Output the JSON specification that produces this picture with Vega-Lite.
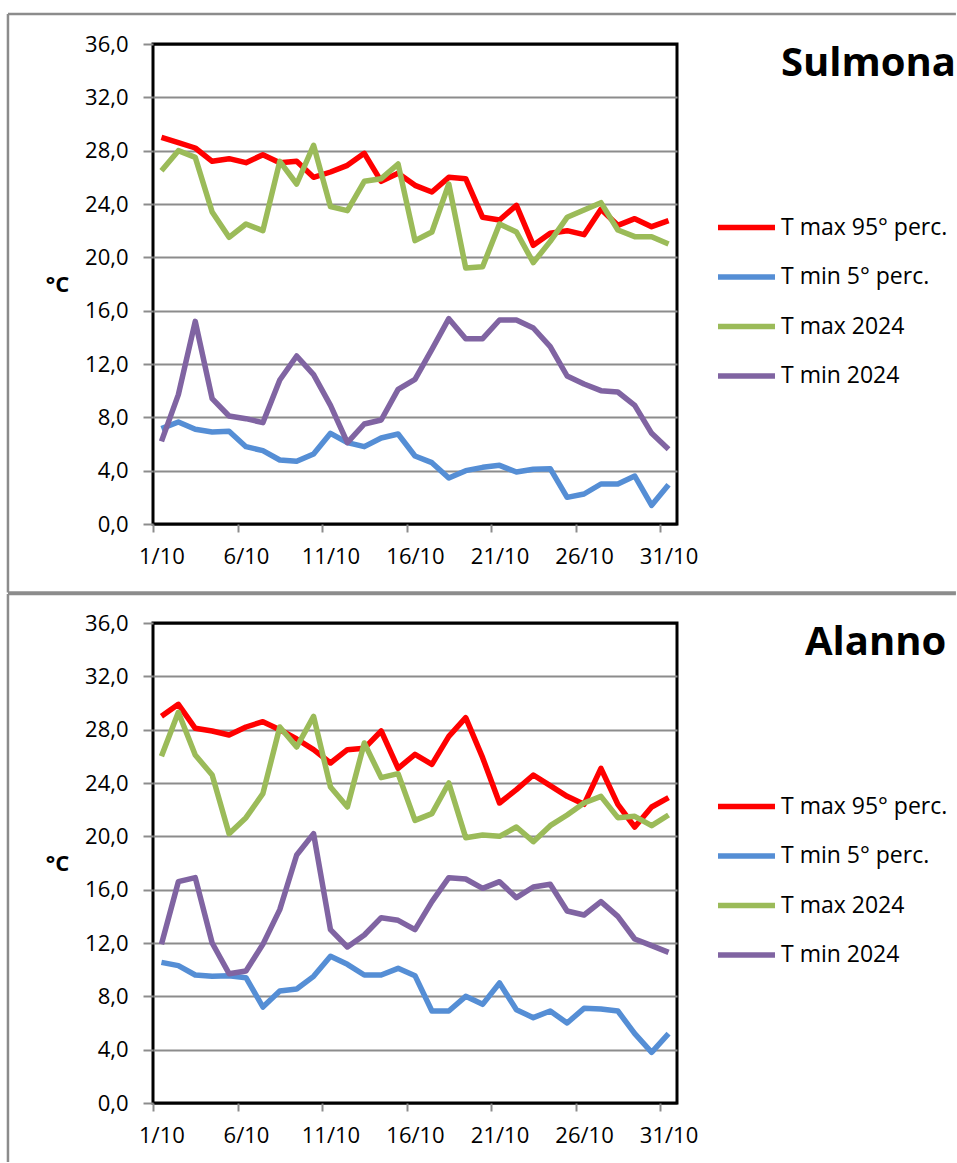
{
"$schema": "https://vega.github.io/schema/vega-lite/v6.json",
"autosize": {"type": "pad"},
"padding": {"left": 5, "top": 11, "right": 0, "bottom": 0},
"background": "white",
"config": {
  "font": "Open Sans",
  "view": {"stroke": "#000", "strokeWidth": 3},
  "axis": {"labelFont": "Open Sans", "labelFontSize": 22, "labelColor": "#000", "tickColor": "#8c8c8c", "tickWidth": 2, "domain": false, "gridColor": "#8c8c8c", "gridWidth": 2}
},
"datasets": {
"frame": [{}],
"t": [
{"s":"Sulmona","k":"T max 95° perc.","d":1,"v":29.0},{"s":"Sulmona","k":"T max 95° perc.","d":2,"v":28.6},{"s":"Sulmona","k":"T max 95° perc.","d":3,"v":28.2},{"s":"Sulmona","k":"T max 95° perc.","d":4,"v":27.2},{"s":"Sulmona","k":"T max 95° perc.","d":5,"v":27.4},{"s":"Sulmona","k":"T max 95° perc.","d":6,"v":27.1},{"s":"Sulmona","k":"T max 95° perc.","d":7,"v":27.7},{"s":"Sulmona","k":"T max 95° perc.","d":8,"v":27.1},{"s":"Sulmona","k":"T max 95° perc.","d":9,"v":27.2},{"s":"Sulmona","k":"T max 95° perc.","d":10,"v":26.0},{"s":"Sulmona","k":"T max 95° perc.","d":11,"v":26.4},{"s":"Sulmona","k":"T max 95° perc.","d":12,"v":26.9},{"s":"Sulmona","k":"T max 95° perc.","d":13,"v":27.8},{"s":"Sulmona","k":"T max 95° perc.","d":14,"v":25.7},{"s":"Sulmona","k":"T max 95° perc.","d":15,"v":26.3},{"s":"Sulmona","k":"T max 95° perc.","d":16,"v":25.4},{"s":"Sulmona","k":"T max 95° perc.","d":17,"v":24.9},{"s":"Sulmona","k":"T max 95° perc.","d":18,"v":26.0},{"s":"Sulmona","k":"T max 95° perc.","d":19,"v":25.9},{"s":"Sulmona","k":"T max 95° perc.","d":20,"v":23.0},{"s":"Sulmona","k":"T max 95° perc.","d":21,"v":22.8},{"s":"Sulmona","k":"T max 95° perc.","d":22,"v":23.9},{"s":"Sulmona","k":"T max 95° perc.","d":23,"v":20.9},{"s":"Sulmona","k":"T max 95° perc.","d":24,"v":21.8},{"s":"Sulmona","k":"T max 95° perc.","d":25,"v":22.0},{"s":"Sulmona","k":"T max 95° perc.","d":26,"v":21.7},{"s":"Sulmona","k":"T max 95° perc.","d":27,"v":23.6},{"s":"Sulmona","k":"T max 95° perc.","d":28,"v":22.4},{"s":"Sulmona","k":"T max 95° perc.","d":29,"v":22.9},{"s":"Sulmona","k":"T max 95° perc.","d":30,"v":22.3},{"s":"Sulmona","k":"T max 95° perc.","d":31,"v":22.75},
{"s":"Sulmona","k":"T min 5° perc.","d":1,"v":7.15},{"s":"Sulmona","k":"T min 5° perc.","d":2,"v":7.65},{"s":"Sulmona","k":"T min 5° perc.","d":3,"v":7.1},{"s":"Sulmona","k":"T min 5° perc.","d":4,"v":6.9},{"s":"Sulmona","k":"T min 5° perc.","d":5,"v":6.95},{"s":"Sulmona","k":"T min 5° perc.","d":6,"v":5.8},{"s":"Sulmona","k":"T min 5° perc.","d":7,"v":5.5},{"s":"Sulmona","k":"T min 5° perc.","d":8,"v":4.8},{"s":"Sulmona","k":"T min 5° perc.","d":9,"v":4.7},{"s":"Sulmona","k":"T min 5° perc.","d":10,"v":5.25},{"s":"Sulmona","k":"T min 5° perc.","d":11,"v":6.8},{"s":"Sulmona","k":"T min 5° perc.","d":12,"v":6.1},{"s":"Sulmona","k":"T min 5° perc.","d":13,"v":5.8},{"s":"Sulmona","k":"T min 5° perc.","d":14,"v":6.45},{"s":"Sulmona","k":"T min 5° perc.","d":15,"v":6.75},{"s":"Sulmona","k":"T min 5° perc.","d":16,"v":5.1},{"s":"Sulmona","k":"T min 5° perc.","d":17,"v":4.6},{"s":"Sulmona","k":"T min 5° perc.","d":18,"v":3.45},{"s":"Sulmona","k":"T min 5° perc.","d":19,"v":4.0},{"s":"Sulmona","k":"T min 5° perc.","d":20,"v":4.25},{"s":"Sulmona","k":"T min 5° perc.","d":21,"v":4.4},{"s":"Sulmona","k":"T min 5° perc.","d":22,"v":3.9},{"s":"Sulmona","k":"T min 5° perc.","d":23,"v":4.1},{"s":"Sulmona","k":"T min 5° perc.","d":24,"v":4.15},{"s":"Sulmona","k":"T min 5° perc.","d":25,"v":2.0},{"s":"Sulmona","k":"T min 5° perc.","d":26,"v":2.25},{"s":"Sulmona","k":"T min 5° perc.","d":27,"v":3.0},{"s":"Sulmona","k":"T min 5° perc.","d":28,"v":3.0},{"s":"Sulmona","k":"T min 5° perc.","d":29,"v":3.6},{"s":"Sulmona","k":"T min 5° perc.","d":30,"v":1.4},{"s":"Sulmona","k":"T min 5° perc.","d":31,"v":2.95},
{"s":"Sulmona","k":"T max 2024","d":1,"v":26.5},{"s":"Sulmona","k":"T max 2024","d":2,"v":28.0},{"s":"Sulmona","k":"T max 2024","d":3,"v":27.5},{"s":"Sulmona","k":"T max 2024","d":4,"v":23.4},{"s":"Sulmona","k":"T max 2024","d":5,"v":21.5},{"s":"Sulmona","k":"T max 2024","d":6,"v":22.5},{"s":"Sulmona","k":"T max 2024","d":7,"v":22.0},{"s":"Sulmona","k":"T max 2024","d":8,"v":27.2},{"s":"Sulmona","k":"T max 2024","d":9,"v":25.5},{"s":"Sulmona","k":"T max 2024","d":10,"v":28.4},{"s":"Sulmona","k":"T max 2024","d":11,"v":23.8},{"s":"Sulmona","k":"T max 2024","d":12,"v":23.5},{"s":"Sulmona","k":"T max 2024","d":13,"v":25.7},{"s":"Sulmona","k":"T max 2024","d":14,"v":25.9},{"s":"Sulmona","k":"T max 2024","d":15,"v":27.0},{"s":"Sulmona","k":"T max 2024","d":16,"v":21.25},{"s":"Sulmona","k":"T max 2024","d":17,"v":21.9},{"s":"Sulmona","k":"T max 2024","d":18,"v":25.5},{"s":"Sulmona","k":"T max 2024","d":19,"v":19.2},{"s":"Sulmona","k":"T max 2024","d":20,"v":19.3},{"s":"Sulmona","k":"T max 2024","d":21,"v":22.5},{"s":"Sulmona","k":"T max 2024","d":22,"v":21.9},{"s":"Sulmona","k":"T max 2024","d":23,"v":19.6},{"s":"Sulmona","k":"T max 2024","d":24,"v":21.2},{"s":"Sulmona","k":"T max 2024","d":25,"v":23.0},{"s":"Sulmona","k":"T max 2024","d":26,"v":23.55},{"s":"Sulmona","k":"T max 2024","d":27,"v":24.1},{"s":"Sulmona","k":"T max 2024","d":28,"v":22.05},{"s":"Sulmona","k":"T max 2024","d":29,"v":21.55},{"s":"Sulmona","k":"T max 2024","d":30,"v":21.55},{"s":"Sulmona","k":"T max 2024","d":31,"v":21.0},
{"s":"Sulmona","k":"T min 2024","d":1,"v":6.2},{"s":"Sulmona","k":"T min 2024","d":2,"v":9.7},{"s":"Sulmona","k":"T min 2024","d":3,"v":15.2},{"s":"Sulmona","k":"T min 2024","d":4,"v":9.4},{"s":"Sulmona","k":"T min 2024","d":5,"v":8.1},{"s":"Sulmona","k":"T min 2024","d":6,"v":7.9},{"s":"Sulmona","k":"T min 2024","d":7,"v":7.6},{"s":"Sulmona","k":"T min 2024","d":8,"v":10.8},{"s":"Sulmona","k":"T min 2024","d":9,"v":12.6},{"s":"Sulmona","k":"T min 2024","d":10,"v":11.2},{"s":"Sulmona","k":"T min 2024","d":11,"v":8.9},{"s":"Sulmona","k":"T min 2024","d":12,"v":6.1},{"s":"Sulmona","k":"T min 2024","d":13,"v":7.5},{"s":"Sulmona","k":"T min 2024","d":14,"v":7.8},{"s":"Sulmona","k":"T min 2024","d":15,"v":10.1},{"s":"Sulmona","k":"T min 2024","d":16,"v":10.85},{"s":"Sulmona","k":"T min 2024","d":17,"v":13.1},{"s":"Sulmona","k":"T min 2024","d":18,"v":15.4},{"s":"Sulmona","k":"T min 2024","d":19,"v":13.9},{"s":"Sulmona","k":"T min 2024","d":20,"v":13.9},{"s":"Sulmona","k":"T min 2024","d":21,"v":15.3},{"s":"Sulmona","k":"T min 2024","d":22,"v":15.3},{"s":"Sulmona","k":"T min 2024","d":23,"v":14.7},{"s":"Sulmona","k":"T min 2024","d":24,"v":13.3},{"s":"Sulmona","k":"T min 2024","d":25,"v":11.1},{"s":"Sulmona","k":"T min 2024","d":26,"v":10.5},{"s":"Sulmona","k":"T min 2024","d":27,"v":10.0},{"s":"Sulmona","k":"T min 2024","d":28,"v":9.9},{"s":"Sulmona","k":"T min 2024","d":29,"v":8.9},{"s":"Sulmona","k":"T min 2024","d":30,"v":6.8},{"s":"Sulmona","k":"T min 2024","d":31,"v":5.6},
{"s":"Alanno","k":"T max 95° perc.","d":1,"v":29.0},{"s":"Alanno","k":"T max 95° perc.","d":2,"v":29.9},{"s":"Alanno","k":"T max 95° perc.","d":3,"v":28.1},{"s":"Alanno","k":"T max 95° perc.","d":4,"v":27.9},{"s":"Alanno","k":"T max 95° perc.","d":5,"v":27.6},{"s":"Alanno","k":"T max 95° perc.","d":6,"v":28.2},{"s":"Alanno","k":"T max 95° perc.","d":7,"v":28.6},{"s":"Alanno","k":"T max 95° perc.","d":8,"v":28.0},{"s":"Alanno","k":"T max 95° perc.","d":9,"v":27.3},{"s":"Alanno","k":"T max 95° perc.","d":10,"v":26.5},{"s":"Alanno","k":"T max 95° perc.","d":11,"v":25.5},{"s":"Alanno","k":"T max 95° perc.","d":12,"v":26.5},{"s":"Alanno","k":"T max 95° perc.","d":13,"v":26.6},{"s":"Alanno","k":"T max 95° perc.","d":14,"v":27.9},{"s":"Alanno","k":"T max 95° perc.","d":15,"v":25.1},{"s":"Alanno","k":"T max 95° perc.","d":16,"v":26.15},{"s":"Alanno","k":"T max 95° perc.","d":17,"v":25.4},{"s":"Alanno","k":"T max 95° perc.","d":18,"v":27.5},{"s":"Alanno","k":"T max 95° perc.","d":19,"v":28.9},{"s":"Alanno","k":"T max 95° perc.","d":20,"v":25.9},{"s":"Alanno","k":"T max 95° perc.","d":21,"v":22.5},{"s":"Alanno","k":"T max 95° perc.","d":22,"v":23.5},{"s":"Alanno","k":"T max 95° perc.","d":23,"v":24.6},{"s":"Alanno","k":"T max 95° perc.","d":24,"v":23.8},{"s":"Alanno","k":"T max 95° perc.","d":25,"v":23.0},{"s":"Alanno","k":"T max 95° perc.","d":26,"v":22.4},{"s":"Alanno","k":"T max 95° perc.","d":27,"v":25.1},{"s":"Alanno","k":"T max 95° perc.","d":28,"v":22.4},{"s":"Alanno","k":"T max 95° perc.","d":29,"v":20.7},{"s":"Alanno","k":"T max 95° perc.","d":30,"v":22.2},{"s":"Alanno","k":"T max 95° perc.","d":31,"v":22.9},
{"s":"Alanno","k":"T min 5° perc.","d":1,"v":10.55},{"s":"Alanno","k":"T min 5° perc.","d":2,"v":10.3},{"s":"Alanno","k":"T min 5° perc.","d":3,"v":9.6},{"s":"Alanno","k":"T min 5° perc.","d":4,"v":9.5},{"s":"Alanno","k":"T min 5° perc.","d":5,"v":9.55},{"s":"Alanno","k":"T min 5° perc.","d":6,"v":9.4},{"s":"Alanno","k":"T min 5° perc.","d":7,"v":7.2},{"s":"Alanno","k":"T min 5° perc.","d":8,"v":8.4},{"s":"Alanno","k":"T min 5° perc.","d":9,"v":8.55},{"s":"Alanno","k":"T min 5° perc.","d":10,"v":9.5},{"s":"Alanno","k":"T min 5° perc.","d":11,"v":11.0},{"s":"Alanno","k":"T min 5° perc.","d":12,"v":10.4},{"s":"Alanno","k":"T min 5° perc.","d":13,"v":9.6},{"s":"Alanno","k":"T min 5° perc.","d":14,"v":9.6},{"s":"Alanno","k":"T min 5° perc.","d":15,"v":10.1},{"s":"Alanno","k":"T min 5° perc.","d":16,"v":9.55},{"s":"Alanno","k":"T min 5° perc.","d":17,"v":6.9},{"s":"Alanno","k":"T min 5° perc.","d":18,"v":6.9},{"s":"Alanno","k":"T min 5° perc.","d":19,"v":8.0},{"s":"Alanno","k":"T min 5° perc.","d":20,"v":7.4},{"s":"Alanno","k":"T min 5° perc.","d":21,"v":9.0},{"s":"Alanno","k":"T min 5° perc.","d":22,"v":7.0},{"s":"Alanno","k":"T min 5° perc.","d":23,"v":6.4},{"s":"Alanno","k":"T min 5° perc.","d":24,"v":6.9},{"s":"Alanno","k":"T min 5° perc.","d":25,"v":6.0},{"s":"Alanno","k":"T min 5° perc.","d":26,"v":7.1},{"s":"Alanno","k":"T min 5° perc.","d":27,"v":7.05},{"s":"Alanno","k":"T min 5° perc.","d":28,"v":6.9},{"s":"Alanno","k":"T min 5° perc.","d":29,"v":5.2},{"s":"Alanno","k":"T min 5° perc.","d":30,"v":3.8},{"s":"Alanno","k":"T min 5° perc.","d":31,"v":5.2},
{"s":"Alanno","k":"T max 2024","d":1,"v":26.0},{"s":"Alanno","k":"T max 2024","d":2,"v":29.3},{"s":"Alanno","k":"T max 2024","d":3,"v":26.1},{"s":"Alanno","k":"T max 2024","d":4,"v":24.6},{"s":"Alanno","k":"T max 2024","d":5,"v":20.2},{"s":"Alanno","k":"T max 2024","d":6,"v":21.4},{"s":"Alanno","k":"T max 2024","d":7,"v":23.2},{"s":"Alanno","k":"T max 2024","d":8,"v":28.2},{"s":"Alanno","k":"T max 2024","d":9,"v":26.7},{"s":"Alanno","k":"T max 2024","d":10,"v":29.0},{"s":"Alanno","k":"T max 2024","d":11,"v":23.7},{"s":"Alanno","k":"T max 2024","d":12,"v":22.2},{"s":"Alanno","k":"T max 2024","d":13,"v":27.0},{"s":"Alanno","k":"T max 2024","d":14,"v":24.4},{"s":"Alanno","k":"T max 2024","d":15,"v":24.7},{"s":"Alanno","k":"T max 2024","d":16,"v":21.2},{"s":"Alanno","k":"T max 2024","d":17,"v":21.7},{"s":"Alanno","k":"T max 2024","d":18,"v":24.0},{"s":"Alanno","k":"T max 2024","d":19,"v":19.9},{"s":"Alanno","k":"T max 2024","d":20,"v":20.1},{"s":"Alanno","k":"T max 2024","d":21,"v":20.0},{"s":"Alanno","k":"T max 2024","d":22,"v":20.7},{"s":"Alanno","k":"T max 2024","d":23,"v":19.6},{"s":"Alanno","k":"T max 2024","d":24,"v":20.8},{"s":"Alanno","k":"T max 2024","d":25,"v":21.6},{"s":"Alanno","k":"T max 2024","d":26,"v":22.5},{"s":"Alanno","k":"T max 2024","d":27,"v":23.0},{"s":"Alanno","k":"T max 2024","d":28,"v":21.4},{"s":"Alanno","k":"T max 2024","d":29,"v":21.5},{"s":"Alanno","k":"T max 2024","d":30,"v":20.8},{"s":"Alanno","k":"T max 2024","d":31,"v":21.6},
{"s":"Alanno","k":"T min 2024","d":1,"v":11.9},{"s":"Alanno","k":"T min 2024","d":2,"v":16.6},{"s":"Alanno","k":"T min 2024","d":3,"v":16.9},{"s":"Alanno","k":"T min 2024","d":4,"v":12.0},{"s":"Alanno","k":"T min 2024","d":5,"v":9.7},{"s":"Alanno","k":"T min 2024","d":6,"v":9.9},{"s":"Alanno","k":"T min 2024","d":7,"v":11.9},{"s":"Alanno","k":"T min 2024","d":8,"v":14.5},{"s":"Alanno","k":"T min 2024","d":9,"v":18.6},{"s":"Alanno","k":"T min 2024","d":10,"v":20.2},{"s":"Alanno","k":"T min 2024","d":11,"v":13.0},{"s":"Alanno","k":"T min 2024","d":12,"v":11.7},{"s":"Alanno","k":"T min 2024","d":13,"v":12.6},{"s":"Alanno","k":"T min 2024","d":14,"v":13.9},{"s":"Alanno","k":"T min 2024","d":15,"v":13.7},{"s":"Alanno","k":"T min 2024","d":16,"v":13.0},{"s":"Alanno","k":"T min 2024","d":17,"v":15.1},{"s":"Alanno","k":"T min 2024","d":18,"v":16.9},{"s":"Alanno","k":"T min 2024","d":19,"v":16.8},{"s":"Alanno","k":"T min 2024","d":20,"v":16.1},{"s":"Alanno","k":"T min 2024","d":21,"v":16.6},{"s":"Alanno","k":"T min 2024","d":22,"v":15.4},{"s":"Alanno","k":"T min 2024","d":23,"v":16.2},{"s":"Alanno","k":"T min 2024","d":24,"v":16.4},{"s":"Alanno","k":"T min 2024","d":25,"v":14.4},{"s":"Alanno","k":"T min 2024","d":26,"v":14.1},{"s":"Alanno","k":"T min 2024","d":27,"v":15.1},{"s":"Alanno","k":"T min 2024","d":28,"v":14.0},{"s":"Alanno","k":"T min 2024","d":29,"v":12.3},{"s":"Alanno","k":"T min 2024","d":30,"v":11.8},{"s":"Alanno","k":"T min 2024","d":31,"v":11.3}
]
},
"bounds": "flush",
"spacing": 99,
"resolve": {"scale": {"color": "independent"}},
"vconcat": [
{
  "width": 524, "height": 480,
  "title": {"text": "Sulmona", "anchor": "start", "frame": "group", "dx": 628, "dy": 103, "offset": 0, "baseline": "alphabetic", "fontSize": 40, "fontWeight": "bold", "color": "#000", "font": "Open Sans"},
  "layer": [
    {
      "data": {"name": "frame"},
      "mark": {"type": "rule", "stroke": "#8c8c8c", "strokeWidth": 2.5},
      "encoding": {
        "x": {"datum": -8.08, "type": "quantitative", "scale": {"domain": [0.5, 31.5], "nice": false, "zero": false}},
        "y": {"datum": 38.25, "type": "quantitative", "scale": {"domain": [0, 36], "nice": false, "zero": false}},
        "y2": {"datum": -5.14}
      }
    },
    {
      "data": {"name": "frame"},
      "mark": {"type": "rule", "stroke": "#8c8c8c", "strokeWidth": 2.5},
      "encoding": {
        "x": {"datum": -8.08, "type": "quantitative", "scale": {"domain": [0.5, 31.5], "nice": false, "zero": false}},
        "x2": {"datum": 48.0},
        "y": {"datum": 38.25, "type": "quantitative", "scale": {"domain": [0, 36], "nice": false, "zero": false}}
      }
    },
    {
      "data": {"name": "frame"},
      "mark": {"type": "rule", "stroke": "#8c8c8c", "strokeWidth": 2.5},
      "encoding": {
        "x": {"datum": -8.08, "type": "quantitative", "scale": {"domain": [0.5, 31.5], "nice": false, "zero": false}},
        "x2": {"datum": 48.0},
        "y": {"datum": -5.14, "type": "quantitative", "scale": {"domain": [0, 36], "nice": false, "zero": false}}
      }
    },
    {
      "data": {"name": "t"},
      "transform": [{"filter": "datum.s == 'Sulmona'"}],
      "mark": {"type": "line", "strokeWidth": 5.5, "strokeJoin": "round"},
      "encoding": {
        "x": {"field": "d", "type": "quantitative", "scale": {"domain": [0.5, 31.5], "nice": false, "zero": false},
              "axis": {"title": null, "values": [0.5,5.5,10.5,15.5,20.5,25.5,30.5], "labelExpr": "(datum.value + 0.5) + '/10'", "labelOffset": 8.45, "labelFlush": false, "labelOverlap": false, "grid": false, "tickSize": 8, "labelPadding": 14}},
        "y": {"field": "v", "type": "quantitative", "scale": {"domain": [0, 36], "nice": false, "zero": false},
              "axis": {"title": "°C", "values": [0,4,8,12,16,20,24,28,32,36], "labelExpr": "replace(format(datum.value, '.1f'), '.', ',')", "tickSize": 10, "labelPadding": 15, "grid": true,
                       "gridColor": {"condition": {"test": "datum.value == 36 || datum.value == 0", "value": "#000"}, "value": "#8c8c8c"},
                       "titleAngle": 0, "titleFontSize": 22, "titleFontWeight": "bold", "titleColor": "#000", "titleFont": "Open Sans", "titleX": -96, "titleY": 240, "titleAlign": "center", "titleBaseline": "middle"}},
        "color": {"field": "k", "type": "nominal",
                  "scale": {"domain": ["T max 95° perc.", "T min 5° perc.", "T max 2024", "T min 2024"], "range": ["#FF0000", "#558ED5", "#9BBB59", "#8064A2"]},
                  "legend": {"title": null, "orient": "none", "legendX": 562, "legendY": 152, "symbolType": "stroke", "symbolSize": 3249, "symbolStrokeWidth": 5.5, "labelFontSize": 23, "labelFont": "Open Sans", "labelColor": "#000", "labelOffset": 3, "rowPadding": 5.5, "labelLimit": 300}}
      }
    }
  ]
},
{
  "width": 524, "height": 480,
  "title": {"text": "Alanno", "anchor": "start", "frame": "group", "dx": 652, "dy": 102, "offset": 0, "baseline": "alphabetic", "fontSize": 40, "fontWeight": "bold", "color": "#000", "font": "Open Sans"},
  "layer": [
    {
      "data": {"name": "frame"},
      "mark": {"type": "rule", "stroke": "#8c8c8c", "strokeWidth": 2.5},
      "encoding": {
        "x": {"datum": -8.08, "type": "quantitative", "scale": {"domain": [0.5, 31.5], "nice": false, "zero": false}},
        "y": {"datum": 38.18, "type": "quantitative", "scale": {"domain": [0, 36], "nice": false, "zero": false}},
        "y2": {"datum": -4.43}
      }
    },
    {
      "data": {"name": "frame"},
      "mark": {"type": "rule", "stroke": "#8c8c8c", "strokeWidth": 2.5},
      "encoding": {
        "x": {"datum": -8.08, "type": "quantitative", "scale": {"domain": [0.5, 31.5], "nice": false, "zero": false}},
        "x2": {"datum": 48.0},
        "y": {"datum": 38.18, "type": "quantitative", "scale": {"domain": [0, 36], "nice": false, "zero": false}}
      }
    },
    {
      "data": {"name": "t"},
      "transform": [{"filter": "datum.s == 'Alanno'"}],
      "mark": {"type": "line", "strokeWidth": 5.5, "strokeJoin": "round"},
      "encoding": {
        "x": {"field": "d", "type": "quantitative", "scale": {"domain": [0.5, 31.5], "nice": false, "zero": false},
              "axis": {"title": null, "values": [0.5,5.5,10.5,15.5,20.5,25.5,30.5], "labelExpr": "(datum.value + 0.5) + '/10'", "labelOffset": 8.45, "labelFlush": false, "labelOverlap": false, "grid": false, "tickSize": 8, "labelPadding": 14}},
        "y": {"field": "v", "type": "quantitative", "scale": {"domain": [0, 36], "nice": false, "zero": false},
              "axis": {"title": "°C", "values": [0,4,8,12,16,20,24,28,32,36], "labelExpr": "replace(format(datum.value, '.1f'), '.', ',')", "tickSize": 10, "labelPadding": 15, "grid": true,
                       "gridColor": {"condition": {"test": "datum.value == 36 || datum.value == 0", "value": "#000"}, "value": "#8c8c8c"},
                       "titleAngle": 0, "titleFontSize": 22, "titleFontWeight": "bold", "titleColor": "#000", "titleFont": "Open Sans", "titleX": -96, "titleY": 240, "titleAlign": "center", "titleBaseline": "middle"}},
        "color": {"field": "k", "type": "nominal",
                  "scale": {"domain": ["T max 95° perc.", "T min 5° perc.", "T max 2024", "T min 2024"], "range": ["#FF0000", "#558ED5", "#9BBB59", "#8064A2"]},
                  "legend": {"title": null, "orient": "none", "legendX": 562, "legendY": 152, "symbolType": "stroke", "symbolSize": 3249, "symbolStrokeWidth": 5.5, "labelFontSize": 23, "labelFont": "Open Sans", "labelColor": "#000", "labelOffset": 3, "rowPadding": 5.5, "labelLimit": 300}}
      }
    }
  ]
}
]
}
